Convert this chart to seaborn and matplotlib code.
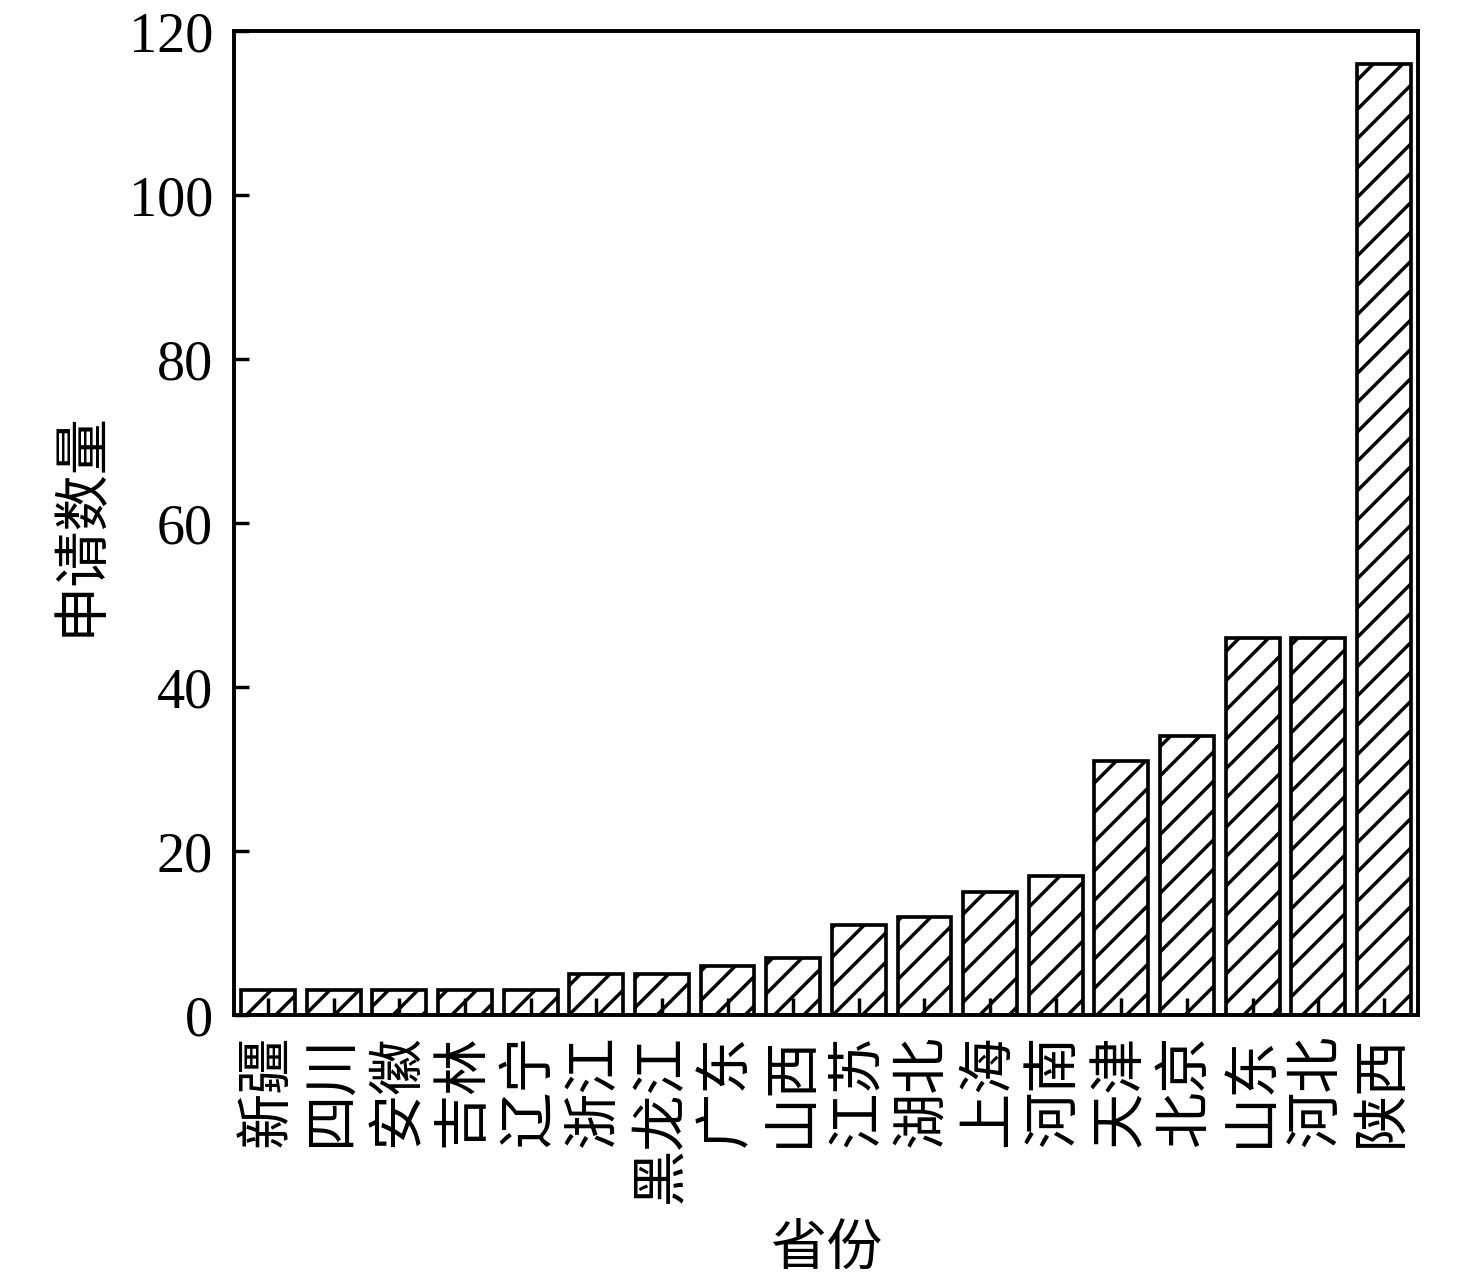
import seaborn as sns
import matplotlib.pyplot as plt

# 各省份申请数量
provinces = ['新疆', '四川', '安徽', '吉林', '辽宁', '浙江', '黑龙江', '广东', '山西',
             '江苏', '湖北', '上海', '河南', '天津', '北京', '山东', '河北', '陕西']
counts = [3, 3, 3, 3, 3, 5, 5, 6, 7, 11, 12, 15, 17, 31, 34, 46, 46, 116]
yticks = [0, 20, 40, 60, 80, 100, 120]

sns.set_style('ticks')
plt.rcParams['font.family'] = ['Liberation Serif', 'Noto Sans CJK SC']
plt.rcParams['hatch.linewidth'] = 1.4
plt.rcParams['hatch.color'] = 'black'
plt.rcParams['text.color'] = 'black'
plt.rcParams['axes.labelcolor'] = 'black'
plt.rcParams['xtick.color'] = 'black'
plt.rcParams['ytick.color'] = 'black'

dpi = 176
fig = plt.figure(figsize=(1476 / dpi, 1283 / dpi), dpi=dpi)
ax = fig.add_axes([234 / 1476, 1 - 1015 / 1283, (1418 - 234) / 1476, (1015 - 31) / 1283])

sns.barplot(x=provinces, y=counts, ax=ax, color='white', saturation=1,
            edgecolor='black', linewidth=1.5, hatch='//', width=0.82)

ax.set_xlim(-0.52, len(provinces) - 0.48)
ax.set_ylim(0, 120)
ax.set_yticks(yticks)

for s in ax.spines.values():
    s.set_linewidth(1.6)
    s.set_color('black')
    s.set_zorder(6)

ax.tick_params(axis='y', direction='in', length=6, width=1.4, pad=8.5, labelsize=23)
ax.tick_params(axis='x', direction='in', length=7, width=1.4, pad=8, labelsize=23,
               labelrotation=90, bottom=True)
# 刻度画在柱子上面
ax.xaxis.set_zorder(5)
ax.yaxis.set_zorder(5)

ax.set_xlabel('省份', fontsize=23, labelpad=9)
ax.set_ylabel('申请数量', fontsize=23, labelpad=8)

fig.savefig('out.png', dpi=dpi)
